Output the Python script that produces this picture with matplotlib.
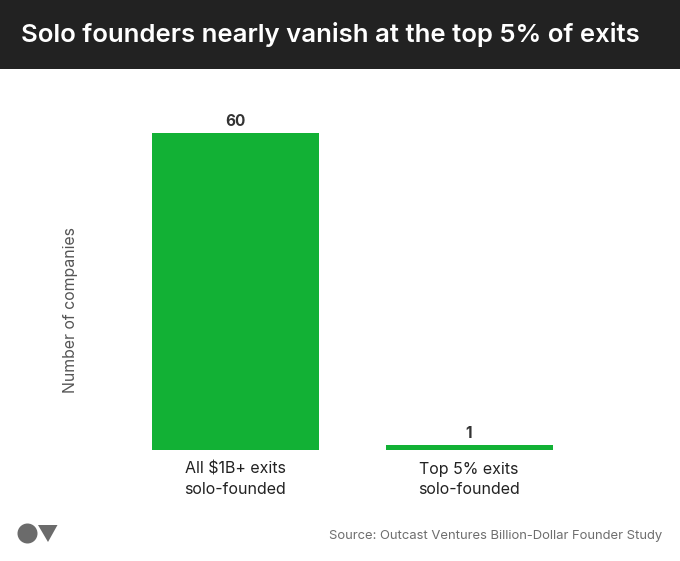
import matplotlib
matplotlib.use("Agg")
import matplotlib.pyplot as plt
from matplotlib.patches import Circle, Polygon, Rectangle

categories = ["All $1B+ exits\nsolo-founded", "Top 5% exits\nsolo-founded"]
values = [60, 1]

title = "Solo founders nearly vanish at the top 5% of exits"
source = "Source: Outcast Ventures Billion-Dollar Founder Study"
ylabel = "Number of companies"

plt.rcParams['font.family'] = ['Inter', 'DejaVu Sans']

W, H = 680, 561
fig = plt.figure(figsize=(W / 100, H / 100), dpi=100, facecolor="white")

# full-figure axes in pixels for header and logo
bg = fig.add_axes([0, 0, 1, 1])
bg.set_xlim(0, W)
bg.set_ylim(H, 0)
bg.axis("off")
bg.add_patch(Rectangle((0, 0), W, 68.5, color="#222222", lw=0))
bg.text(21, 34, title, color="white", fontsize=18.5, fontweight="semibold", va="center", ha="left")
bg.text(662, 536.5, source, color="#6e6e6e", fontsize=9.4, va="center", ha="right")
bg.text(70, 310, ylabel, color="#555555", fontsize=11.4, rotation=90, va="center", ha="center")
bg.add_patch(Circle((27.5, 533.5), 10, color="#6b6b6b", lw=0))
bg.add_patch(Polygon([(38, 525), (57.5, 525), (48, 542)], closed=True, color="#6b6b6b", lw=0))

# bars
ax = fig.add_axes([118 / W, 1 - 450 / H, (586 - 118) / W, (450 - 133) / H])
ax.patch.set_alpha(0)
x = [0, 1]
ax.bar(x, values, width=167 / 234, color="#12B135")
ax.set_xlim(-0.5, 1.5)
ax.set_ylim(0, 60)
ax.set_xticks(x)
ax.set_xticklabels(categories, fontsize=11.5, color="#222222", linespacing=1.4)
ax.tick_params(axis="x", length=0, pad=8.5)
ax.set_yticks([])
for side in ax.spines.values():
    side.set_visible(False)
for i, v in zip(x, values):
    ax.annotate(str(v), (i, v), xytext=(0, 3), textcoords="offset points",
                ha="center", va="bottom", fontsize=11, fontweight="bold", color="#333333")

fig.savefig("out.png", dpi=100)
